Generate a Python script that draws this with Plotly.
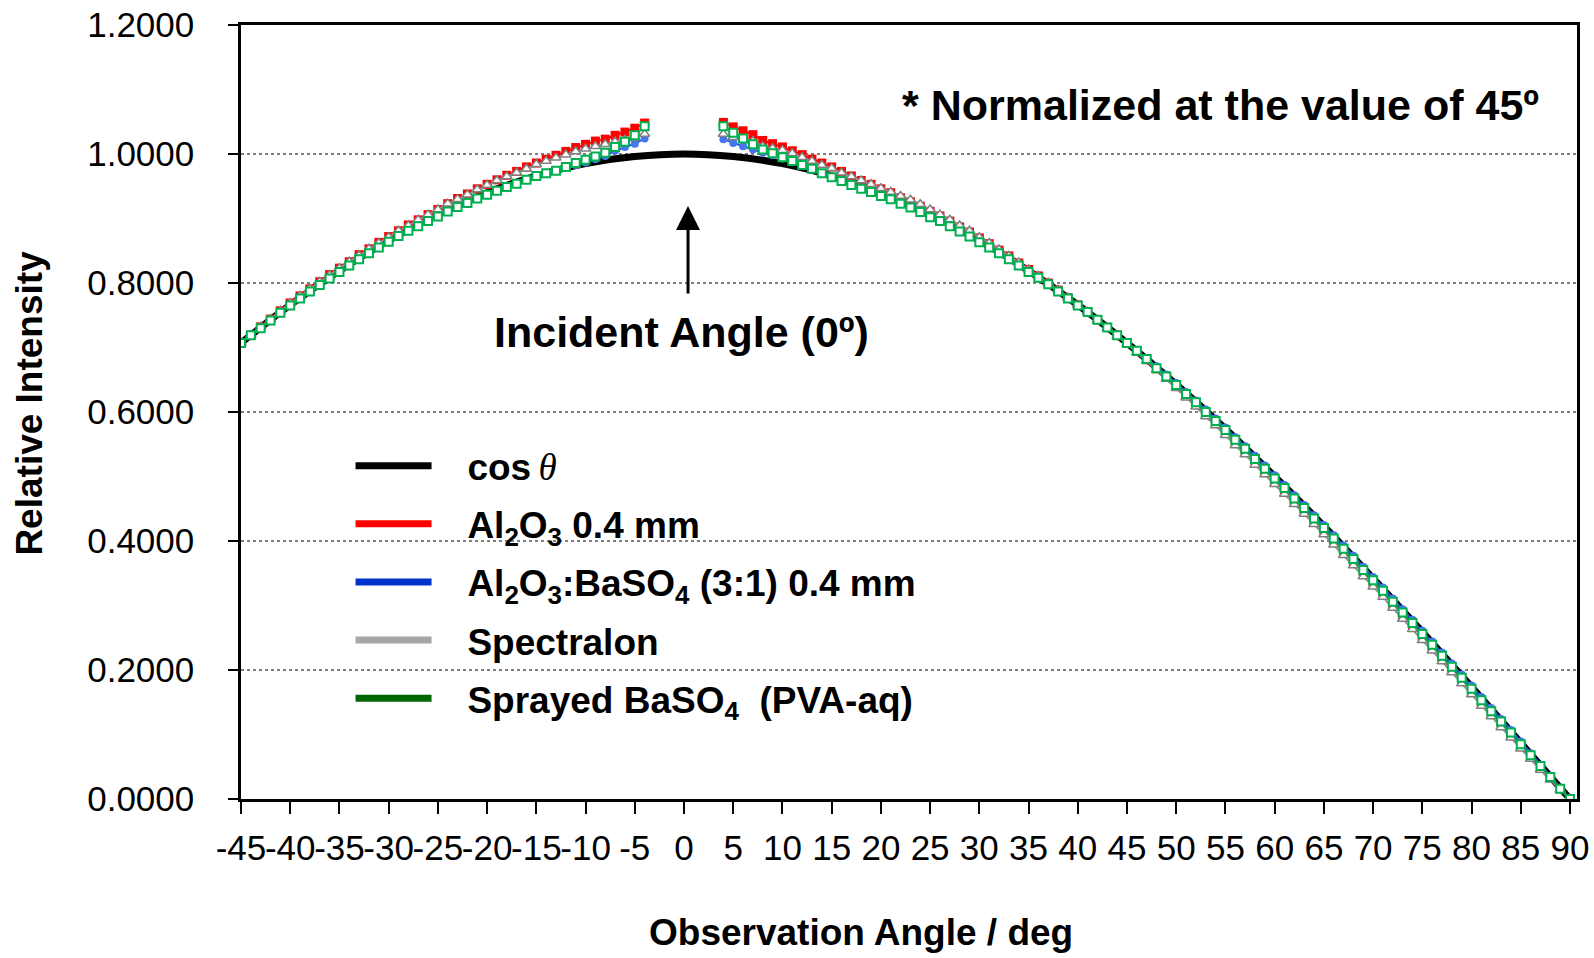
import plotly.graph_objects as go

# ---------------- data ----------------
angles_left = list(range(-45, -3))      # -45 ... -4
angles_right = list(range(4, 91))       # 4 ... 90

cos_angles = [-45, -40, -35, -30, -25, -20, -15, -10, -5, 0, 5, 10, 15, 20,
              25, 30, 35, 40, 45, 50, 55, 60, 65, 70, 75, 80, 85, 90]
cos_values = [0.707, 0.766, 0.819, 0.866, 0.906, 0.940, 0.966, 0.985, 0.996, 1.000,
              0.996, 0.985, 0.966, 0.940, 0.906, 0.866, 0.819, 0.766, 0.707, 0.643,
              0.574, 0.500, 0.423, 0.342, 0.259, 0.174, 0.087, 0.000]

al2o3_left = [0.707, 0.719, 0.732, 0.744, 0.757, 0.769, 0.780, 0.791, 0.802, 0.813,
              0.823, 0.833, 0.844, 0.853, 0.863, 0.872, 0.881, 0.890, 0.898, 0.906,
              0.914, 0.923, 0.931, 0.938, 0.946, 0.953, 0.960, 0.967, 0.973, 0.980,
              0.986, 0.992, 0.998, 1.004, 1.010, 1.015, 1.020, 1.023, 1.029, 1.034,
              1.040, 1.048]
al2o3_right = [1.049, 1.042, 1.036, 1.030, 1.021, 1.016, 1.011, 1.005, 0.999, 0.992,
               0.986, 0.980, 0.973, 0.966, 0.959, 0.953, 0.946, 0.940, 0.932, 0.926,
               0.919, 0.911, 0.904, 0.896, 0.887, 0.879, 0.870, 0.861, 0.851, 0.842,
               0.831, 0.821, 0.811, 0.800, 0.789, 0.777, 0.766, 0.755, 0.743, 0.731,
               0.719, 0.707, 0.694, 0.681, 0.667, 0.654, 0.640, 0.626, 0.612, 0.598,
               0.583, 0.569, 0.553, 0.539, 0.524, 0.509, 0.494, 0.479, 0.463, 0.448,
               0.432, 0.417, 0.401, 0.385, 0.369, 0.352, 0.336, 0.320, 0.303, 0.286,
               0.270, 0.253, 0.236, 0.219, 0.202, 0.185, 0.168, 0.150, 0.133, 0.117,
               0.100, 0.083, 0.066, 0.049, 0.033, 0.016, 0.000]

mix_left = [0.707, 0.719, 0.730, 0.742, 0.754, 0.765, 0.776, 0.787, 0.797, 0.807,
            0.816, 0.826, 0.836, 0.845, 0.854, 0.863, 0.872, 0.880, 0.887, 0.895,
            0.902, 0.910, 0.917, 0.923, 0.930, 0.936, 0.943, 0.949, 0.954, 0.960,
            0.966, 0.970, 0.974, 0.979, 0.983, 0.987, 0.992, 0.997, 1.005, 1.011,
            1.016, 1.024]
mix_right = [1.023, 1.017, 1.012, 1.007, 1.002, 0.998, 0.993, 0.988, 0.982, 0.976,
             0.970, 0.965, 0.959, 0.954, 0.948, 0.943, 0.937, 0.931, 0.924, 0.918,
             0.911, 0.903, 0.897, 0.889, 0.881, 0.873, 0.864, 0.856, 0.847, 0.838,
             0.828, 0.818, 0.809, 0.799, 0.788, 0.777, 0.766, 0.755, 0.743, 0.732,
             0.720, 0.708, 0.696, 0.683, 0.671, 0.658, 0.645, 0.631, 0.618, 0.604,
             0.590, 0.576, 0.561, 0.547, 0.532, 0.517, 0.502, 0.487, 0.471, 0.456,
             0.440, 0.425, 0.409, 0.393, 0.377, 0.360, 0.344, 0.328, 0.311, 0.294,
             0.278, 0.261, 0.244, 0.227, 0.210, 0.193, 0.176, 0.158, 0.141, 0.124,
             0.107, 0.089, 0.071, 0.053, 0.036, 0.017, 0.000]

spectralon_left = [0.707, 0.719, 0.732, 0.744, 0.757, 0.769, 0.780, 0.791, 0.802, 0.812,
                   0.823, 0.833, 0.843, 0.853, 0.862, 0.871, 0.881, 0.889, 0.898, 0.906,
                   0.914, 0.923, 0.930, 0.937, 0.945, 0.952, 0.959, 0.965, 0.971, 0.977,
                   0.984, 0.989, 0.994, 0.999, 1.004, 1.008, 1.012, 1.015, 1.019, 1.022,
                   1.025, 1.031]
spectralon_right = [1.031, 1.026, 1.023, 1.020, 1.012, 1.009, 1.006, 1.001, 0.995, 0.989,
                    0.983, 0.978, 0.971, 0.965, 0.959, 0.953, 0.947, 0.941, 0.935, 0.929,
                    0.922, 0.914, 0.906, 0.898, 0.889, 0.881, 0.871, 0.862, 0.852, 0.842,
                    0.832, 0.821, 0.811, 0.800, 0.789, 0.777, 0.766, 0.755, 0.742, 0.730,
                    0.717, 0.705, 0.692, 0.679, 0.665, 0.651, 0.637, 0.622, 0.608, 0.593,
                    0.579, 0.564, 0.548, 0.534, 0.518, 0.503, 0.488, 0.473, 0.457, 0.442,
                    0.426, 0.410, 0.394, 0.378, 0.362, 0.345, 0.329, 0.313, 0.296, 0.279,
                    0.263, 0.246, 0.230, 0.213, 0.196, 0.179, 0.162, 0.144, 0.128, 0.111,
                    0.095, 0.078, 0.062, 0.045, 0.030, 0.014, 0.000]

baso4_left = [0.707, 0.719, 0.730, 0.742, 0.754, 0.765, 0.776, 0.787, 0.797, 0.807,
              0.817, 0.827, 0.837, 0.846, 0.855, 0.864, 0.873, 0.881, 0.888, 0.896,
              0.903, 0.911, 0.918, 0.924, 0.931, 0.937, 0.943, 0.949, 0.954, 0.960,
              0.966, 0.970, 0.974, 0.980, 0.986, 0.991, 0.996, 1.002, 1.011, 1.019,
              1.029, 1.043]
baso4_right = [1.043, 1.033, 1.024, 1.015, 1.007, 1.001, 0.995, 0.989, 0.983, 0.977,
               0.970, 0.964, 0.958, 0.952, 0.946, 0.941, 0.935, 0.930, 0.923, 0.917,
               0.910, 0.902, 0.896, 0.888, 0.880, 0.872, 0.863, 0.855, 0.846, 0.837,
               0.827, 0.817, 0.808, 0.798, 0.787, 0.776, 0.765, 0.755, 0.743, 0.731,
               0.719, 0.707, 0.695, 0.682, 0.668, 0.655, 0.642, 0.628, 0.615, 0.600,
               0.586, 0.572, 0.557, 0.543, 0.527, 0.512, 0.497, 0.482, 0.466, 0.451,
               0.435, 0.420, 0.404, 0.388, 0.372, 0.355, 0.339, 0.323, 0.306, 0.289,
               0.273, 0.256, 0.239, 0.222, 0.205, 0.188, 0.171, 0.153, 0.136, 0.120,
               0.103, 0.085, 0.068, 0.051, 0.034, 0.016, 0.000]

legend_names = ["cos<span style=\"font-family:'Liberation Serif';font-style:italic;font-weight:normal\">\u2009θ</span>",
                "Al<sub>2</sub>O<sub>3</sub> 0.4 mm",
                "Al<sub>2</sub>O<sub>3</sub>:BaSO<sub>4</sub> (3:1) 0.4 mm",
                "Spectralon",
                "Sprayed BaSO<sub>4</sub>  (PVA-aq)"]
legend_colors = ["#000000", "#FF0000", "#0033CC", "#A6A6A6", "#006600"]

x_tick_vals = [-45, -40, -35, -30, -25, -20, -15, -10, -5, 0, 5, 10, 15, 20, 25,
               30, 35, 40, 45, 50, 55, 60, 65, 70, 75, 80, 85, 90]
x_tick_text = ["-45", "-40", "-35", "-30", "-25", "-20", "-15", "-10", "-5", "0", "5",
               "10", "15", "20", "25", "30", "35", "40", "45", "50", "55", "60", "65",
               "70", "75", "80", "85", "90"]
y_ticks = [0.0, 0.2, 0.4, 0.6, 0.8, 1.0, 1.2]

# ---------------- figure ----------------
FONT = "Liberation Sans, Arial, sans-serif"
NBSP = "\u00a0"
fig = go.Figure()


def joined(left, right):
    return left + [None] + right


x_meas = joined(angles_left, angles_right)

fig.add_trace(go.Scatter(x=cos_angles, y=cos_values, mode="lines",
                         line=dict(color="#000000", width=7, shape="spline"),
                         showlegend=False, hoverinfo="skip"))

fig.add_trace(go.Scatter(x=x_meas, y=joined(al2o3_left, al2o3_right), mode="lines+markers",
                         line=dict(color="#FF0000", width=2),
                         marker=dict(symbol="square", size=9, color="#FF0000"),
                         showlegend=False, connectgaps=False))
fig.add_trace(go.Scatter(x=x_meas, y=joined(mix_left, mix_right), mode="lines+markers",
                         line=dict(color="#2255DD", width=2),
                         marker=dict(symbol="circle", size=8, color="#4477EE"),
                         showlegend=False, connectgaps=False))
fig.add_trace(go.Scatter(x=x_meas, y=joined(spectralon_left, spectralon_right), mode="lines+markers",
                         line=dict(color="#909090", width=2),
                         marker=dict(symbol="triangle-up", size=9, color="#FFFFFF",
                                     line=dict(color="#808080", width=1.5)),
                         showlegend=False, connectgaps=False))
fig.add_trace(go.Scatter(x=x_meas, y=joined(baso4_left, baso4_right), mode="lines+markers",
                         line=dict(color="#00A050", width=2),
                         marker=dict(symbol="square", size=8, color="#FFFFFF",
                                     line=dict(color="#00B050", width=2)),
                         showlegend=False, connectgaps=False))

# legend-only entries (line samples)
for i, (name, col) in enumerate(zip(legend_names, legend_colors)):
    fig.add_trace(go.Scatter(x=[None], y=[None], mode="lines", name=NBSP * 3 + name,
                             line=dict(color=col, width=7), legendgroup=f"g{i}",
                             showlegend=True))

fig.update_layout(
    width=1594, height=958,
    margin=dict(l=241, r=17, t=25, b=159, autoexpand=False),
    paper_bgcolor="white", plot_bgcolor="white",
    font=dict(family=FONT, color="black", size=35),
    showlegend=True,
    legend=dict(x=0.082, y=0.47, xanchor="left", yanchor="top",
                bgcolor="rgba(0,0,0,0)", borderwidth=0,
                font=dict(family=FONT, size=37, color="black", weight="bold"),
                itemwidth=76, tracegroupgap=7, traceorder="grouped"),
    xaxis=dict(range=[-45, 90.71], tickmode="array", tickvals=x_tick_vals,
               ticktext=x_tick_text, automargin=False,
               tickangle=0, ticks="outside", ticklen=12, tickwidth=2, tickcolor="black",
               showline=True, linecolor="black", linewidth=2.5, mirror=True,
               showgrid=False, zeroline=False,
               tickfont=dict(family=FONT, size=35, color="black"), ticklabelstandoff=4),
    yaxis=dict(range=[0, 1.2], tickmode="array", tickvals=y_ticks, tickformat=".4f",
               automargin=False,
               ticks="outside", ticklen=10, tickwidth=2, tickcolor="black",
               showline=True, linecolor="black", linewidth=2.5, mirror=True,
               showgrid=True, gridcolor="#7F7F7F", gridwidth=1.5, griddash="dot",
               zeroline=False,
               tickfont=dict(family=FONT, size=35, color="black"), ticklabelstandoff=27),
)

fig.add_annotation(text="Relative Intensity", xref="paper", yref="paper",
                   x=-0.159, y=0.5116, textangle=-90, showarrow=False,
                   font=dict(family=FONT, size=37, weight="bold"),
                   xanchor="center", yanchor="middle")
fig.add_annotation(text="Observation Angle / deg", xref="paper", yref="paper",
                   x=0.4637, y=-0.1731, showarrow=False,
                   font=dict(family=FONT, size=37, weight="bold"),
                   xanchor="center", yanchor="middle")
fig.add_annotation(text="* Normalized at the value of 45º", xref="paper", yref="paper",
                   x=0.7335, y=0.897, showarrow=False,
                   font=dict(family=FONT, size=43, weight="bold"),
                   xanchor="center", yanchor="middle")
fig.add_annotation(text="Incident Angle (0º)", xref="paper", yref="paper",
                   x=0.3298, y=0.6028, showarrow=False,
                   font=dict(family=FONT, size=43, weight="bold"),
                   xanchor="center", yanchor="middle")
fig.add_annotation(text="", xref="paper", yref="paper", x=0.3346, y=0.766,
                   ax=0, ay=89,
                   showarrow=True, arrowhead=2, arrowsize=1.6, arrowwidth=3,
                   arrowcolor="black")

fig.write_html("out.html")
